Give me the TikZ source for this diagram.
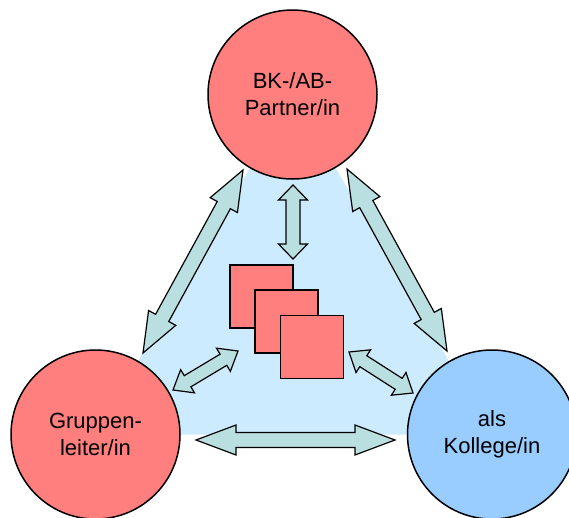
\documentclass[tikz,border=0pt]{standalone}
\usepackage{fontspec}
\setmainfont{Liberation Sans}
\usetikzlibrary{calc}
\definecolor{redfill}{HTML}{FF7F7F}
\definecolor{bluefill}{HTML}{99CCFF}
\definecolor{bgblue}{HTML}{CCEBFF}
\definecolor{arrfill}{HTML}{B9DFE0}
\tikzset{
  rolecircle/.style={circle, draw=black, line width=1.5pt, minimum size=169pt, inner sep=0pt,
    align=center, font=\fontsize{22}{27}\selectfont},
  sq/.style={draw=black, line width=1.4pt, fill=redfill, minimum size=63pt, inner sep=0pt},
  arr/.style={draw=black, line width=1.2pt, fill=arrfill, line join=miter},
}
\newcommand{\mkdblarrow}[5]{%
  \coordinate (ha) at ($(#1)!#5!(#2)$);
  \coordinate (hb) at ($(#2)!#5!(#1)$);
  \draw[arr] (#1) -- ($(ha)!#4!90:(#2)$) -- ($(ha)!#3!90:(#2)$) -- ($(hb)!#3!-90:(#1)$)
    -- ($(hb)!#4!-90:(#1)$) -- (#2) -- ($(hb)!#4!90:(#1)$) -- ($(hb)!#3!90:(#1)$)
    -- ($(ha)!#3!-90:(#2)$) -- ($(ha)!#4!-90:(#2)$) -- cycle;}
\begin{document}
\begin{tikzpicture}[x=1pt,y=-1pt]
\useasboundingbox (0,0) rectangle (569,517);
\coordinate (ct) at (292.5,94.5);
\coordinate (cl) at (95.5,434.5);
\coordinate (cr) at (492,434.5);
\fill[bgblue] (ct) -- (cl) -- (cr) -- cycle;
% arrow end points
\coordinate (tl1) at (243,170);
\coordinate (tl2) at (143,353);
\coordinate (tr1) at (347,169);
\coordinate (tr2) at (447,351);
\coordinate (b1) at (196,440);
\coordinate (b2) at (395,440);
\coordinate (v1) at (293,185);
\coordinate (v2) at (293,259);
\coordinate (sl1) at (173,390);
\coordinate (sl2) at (238,351);
\coordinate (sr1) at (349,352);
\coordinate (sr2) at (413,393);
\mkdblarrow{tl1}{tl2}{7.5pt}{15.5pt}{40pt}
\mkdblarrow{tr1}{tr2}{7.5pt}{15.5pt}{40pt}
\mkdblarrow{b1}{b2}{7.5pt}{15pt}{40pt}
\mkdblarrow{v1}{v2}{7pt}{14.5pt}{15pt}
\mkdblarrow{sl1}{sl2}{6.5pt}{13.5pt}{17pt}
\mkdblarrow{sr1}{sr2}{6.5pt}{13.5pt}{17pt}
% squares
\node[sq] (s1) at (261.5,296.5) {};
\node[sq] (s2) at (286.5,321.5) {};
\node[sq] (s3) at (312,347) {};
% circles
\node[rolecircle, fill=redfill] (top) at (ct) {BK-/AB-\\Partner/in};
\node[rolecircle, fill=redfill] (left) at (cl) {Gruppen-\\leiter/in};
\node[rolecircle, fill=bluefill] (right) at (cr) {als\\Kollege/in};
\end{tikzpicture}
\end{document}
